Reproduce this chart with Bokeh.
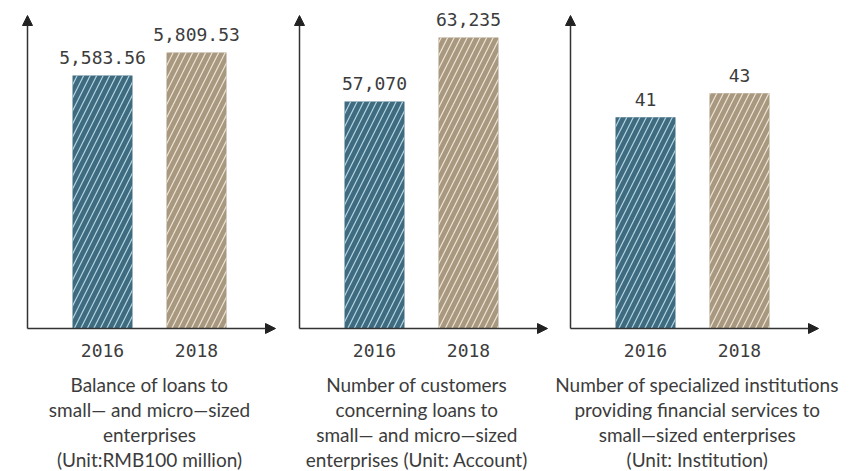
from bokeh.plotting import figure
from bokeh.models import Range1d, LinearAxis, FixedTicker, Arrow, NormalHead, Label, ColumnDataSource
from bokeh.layouts import row
from bokeh.embed import file_html
from bokeh.resources import INLINE
from bokeh.core.properties import value

# ---------------- data ----------------
years = ["2016", "2018"]
loan_balance = [5583.56, 5809.53]      # RMB100 million
customers = [57070, 63235]             # accounts
institutions = [41, 43]                # institutions

captions = [
    ["Balance of loans to", "small— and micro—sized", "enterprises", "(Unit:RMB100 million)"],
    ["Number of customers", "concerning loans to", "small— and micro—sized", "enterprises (Unit: Account)"],
    ["Number of specialized institutions", "providing financial services to", "small—sized enterprises", "(Unit: Institution)"],
]
label_formats = ["{:,.2f}", "{:,.0f}", "{:,.0f}"]

# value at the x-axis line and value at the top of each panel (axis scale of the original)
y_base = [3098, 35200, 23.4]
y_top = [6321, 66796, 50.73]

# ---------------- style / layout ----------------
FONT = "Lato"
NUM_FONT = "DejaVu Sans Mono"
TEXT_COLOR = "#3c3c3c"
BAR_COLORS = ["#3e6b80", "#a8987f"]
HATCH_COLORS = ["#b3d4e0", "#ede4d6"]
H = 471
WIDTHS = [280, 271, 308]
AXIS_PX = [27, 19, 19]   # y-axis x-position inside each panel
PX_X = 94.0              # pixels per category step
BASE_PX = 143            # x-axis height above panel bottom
TOP_PX = H - BASE_PX
caption_dx = [0.0, -0.05, 0.05]

series = [loan_balance, customers, institutions]
panels = []
for i, vals in enumerate(series):
    W = WIDTHS[i]
    base, top = y_base[i], y_top[i]
    per_px = (top - base) / TOP_PX
    y_start = base - BASE_PX * per_px
    x0 = 1 - (AXIS_PX[i] + 75) / PX_X   # data x at panel left edge
    p = figure(width=W, height=H, output_backend="svg", toolbar_location=None,
               x_axis_type=None, y_axis_type=None, min_border=0,
               x_range=Range1d(x0, x0 + W / PX_X), y_range=Range1d(y_start, top))
    p.outline_line_color = None
    p.grid.visible = False
    p.background_fill_color = "white"

    src = ColumnDataSource(dict(
        x=[1, 2], top=vals, color=BAR_COLORS, hatch=HATCH_COLORS,
        label=[label_formats[i].format(v) for v in vals]))
    p.vbar(x="x", top="top", bottom=base, width=60 / PX_X, source=src,
           fill_color="color", line_color=None,
           hatch_pattern="/", hatch_color="hatch", hatch_scale=13, hatch_weight=1.2)
    p.text(x="x", y="top", text="label", source=src, text_align="center",
           text_baseline="alphabetic", y_offset=-18, text_font=value(NUM_FONT),
           text_font_size="18px", text_color=TEXT_COLOR)

    ax_x = 1 - 75 / PX_X
    # x axis with arrow
    p.add_layout(Arrow(end=NormalHead(size=10, fill_color="#222", line_color="#222"),
                       x_start=ax_x, y_start=base, x_end=ax_x + 248 / PX_X, y_end=base,
                       line_color="#333", line_width=1.5))
    # y axis with arrow
    p.add_layout(Arrow(end=NormalHead(size=10, fill_color="#222", line_color="#222"),
                       x_start=ax_x, y_start=base, x_end=ax_x, y_end=top - 15 * per_px,
                       line_color="#333", line_width=1.5))

    xaxis = LinearAxis(fixed_location=base, ticker=FixedTicker(ticks=[1, 2]),
                       major_label_overrides={1: years[0], 2: years[1]},
                       axis_line_color=None, major_tick_line_color=None,
                       minor_tick_line_color=None, major_tick_in=0, major_tick_out=0,
                       major_label_standoff=15, major_label_text_font=NUM_FONT,
                       major_label_text_font_size="18px",
                       major_label_text_color=TEXT_COLOR)
    p.add_layout(xaxis, "below")

    for j, line in enumerate(captions[i]):
        p.add_layout(Label(x=1.5 + caption_dx[i], y=87 - 25 * j, y_units="screen", text=line,
                           text_align="center", text_baseline="middle",
                           text_font=FONT, text_font_size="19px", text_color=TEXT_COLOR))
    panels.append(p)

layout = row(*panels, spacing=0)
open("out.html", "w").write(file_html(layout, INLINE))
